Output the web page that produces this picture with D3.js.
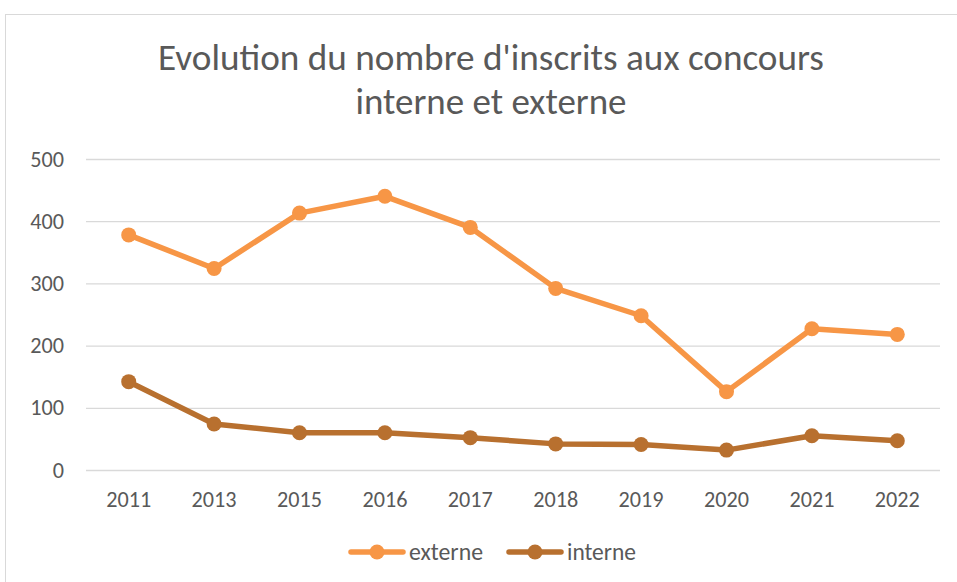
<!DOCTYPE html>
<html><head><meta charset="utf-8">
<script src="https://cdn.jsdelivr.net/npm/d3@7/dist/d3.min.js"></script>
<style>body{margin:0;background:#fff}svg{display:block}</style>
</head><body>
<script>
const years = ["2011","2013","2015","2016","2017","2018","2019","2020","2021","2022"];
const externe = [378, 324, 413, 440, 390, 292, 248, 126, 227, 218];
const interne = [142, 74, 60, 60, 52, 42, 41, 32, 55, 47];
const yTicks = [0, 100, 200, 300, 400, 500];
const titleLines = ["Evolution du nombre d'inscrits aux concours", "interne et externe"];
const seriesNames = ["externe", "interne"];
const colors = ["#F79646", "#B8702F"];

const W = 957, H = 582;
const font = "Carlito, Calibri, Lato, sans-serif";
const svg = d3.select("body").append("svg").attr("width", W).attr("height", H);
svg.append("rect").attr("x", 5.5).attr("y", 14.5).attr("width", W + 10).attr("height", H + 10)
  .attr("fill", "#fff").attr("stroke", "#D9D9D9").attr("stroke-width", 1);

const m = {left: 86, right: 940, top: 159, bottom: 470};
const x = d3.scaleBand().domain(years).range([m.left, m.right]);
const y = d3.scaleLinear().domain([0, 500]).range([m.bottom, m.top]);

function fit(el, target) {
  const len = el.node().getComputedTextLength();
  const fs = parseFloat(el.style("font-size"));
  el.style("font-size", (fs * target / len).toFixed(2) + "px");
}

// title
const tw = [666, 271];
titleLines.forEach((t, i) => {
  const el = svg.append("text").attr("x", 491).attr("y", i === 0 ? 70 : 114)
    .attr("text-anchor", "middle").attr("fill", "#595959")
    .style("font-family", font).style("font-weight", 300).style("font-size", "32px").text(t);
  fit(el, tw[i]);
});

// measure tick font size from a sample
const probe = svg.append("text").style("font-family", font).style("font-size", "20px").text("2011");
const tickFs = 20 * 45 / probe.node().getComputedTextLength();
probe.remove();

// grid
const grid = svg.append("g").attr("transform", `translate(${m.left},0)`)
  .call(d3.axisLeft(y).tickValues(yTicks).tickSize(-(m.right - m.left)).tickFormat(d => d));
grid.select(".domain").remove();
grid.selectAll(".tick line").attr("stroke", "#D9D9D9").attr("stroke-width", 1.3);
grid.selectAll(".tick text").attr("x", -22).attr("fill", "#595959")
  .style("font-family", font).style("font-size", tickFs + "px");

// x axis
const xa = svg.append("g").attr("transform", `translate(0,${m.bottom})`)
  .call(d3.axisBottom(x).tickSize(0));
xa.select(".domain").remove();
xa.selectAll(".tick text").attr("y", 21).attr("dy", "0.71em").attr("fill", "#595959")
  .style("font-family", font).style("font-size", tickFs + "px");

const cx = d => x(d) + x.bandwidth() / 2;
const line = d3.line().x((d, i) => cx(years[i])).y(d => y(d));
[externe, interne].forEach((s, k) => {
  svg.append("path").datum(s).attr("d", line).attr("fill", "none")
    .attr("stroke", colors[k]).attr("stroke-width", 5.5).attr("stroke-linejoin", "round").attr("stroke-linecap", "round");
  svg.selectAll(null).data(s).enter().append("circle")
    .attr("cx", (d, i) => cx(years[i])).attr("cy", d => y(d)).attr("r", 7.5).attr("fill", colors[k]);
});

// legend
const lg = [{x0: 349, name: seriesNames[0], c: colors[0], w: 74}, {x0: 507, name: seriesNames[1], c: colors[1], w: 69}];
lg.forEach(l => {
  svg.append("line").attr("x1", l.x0 + 2).attr("x2", l.x0 + 54).attr("y1", 552).attr("y2", 552)
    .attr("stroke", l.c).attr("stroke-width", 5.5).attr("stroke-linecap", "round");
  svg.append("circle").attr("cx", l.x0 + 28).attr("cy", 552).attr("r", 7.5).attr("fill", l.c);
  const t = svg.append("text").attr("x", l.x0 + 60).attr("y", 552).attr("dy", "0.35em").attr("fill", "#595959")
    .style("font-family", font).style("font-size", "20px").text(l.name);
  fit(t, l.w);
});
</script>
</body></html>
